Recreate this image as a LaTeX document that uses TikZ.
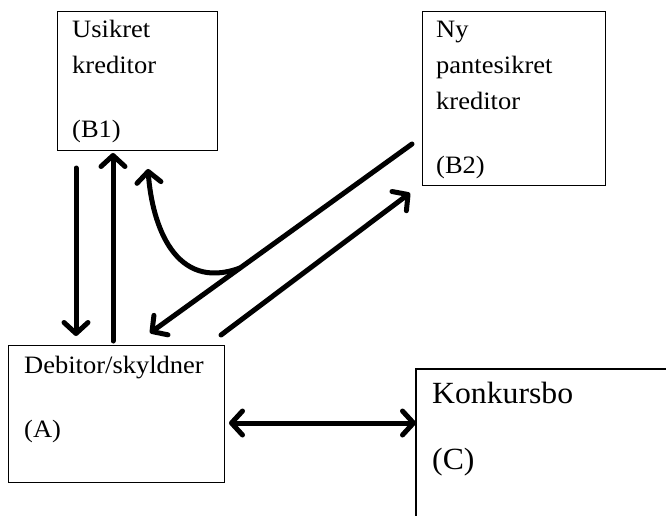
\documentclass[tikz,border=0pt]{standalone}
\usepackage{fontspec}
\usepackage{graphicx}
\setmainfont{Liberation Serif}
\usetikzlibrary{arrows.meta}
\newcommand{\wideA}[1]{\scalebox{1.06}[1]{#1}}
\newcommand{\wideC}[1]{\scalebox{1.03}[1]{#1}}
\tikzset{
  box/.style={draw=black, line width=1.3pt, inner sep=0pt, anchor=north west},
  lbl/.style={anchor=base west, inner sep=0pt, font=\fontsize{25}{29}\selectfont},
  biglbl/.style={anchor=base west, inner sep=0pt, font=\fontsize{30.8}{35}\selectfont},
  arr/.style={line width=5pt, line cap=round, -{Straight Barb[length=11pt, width=24pt, round]}},
}
\begin{document}
\begin{tikzpicture}[x=1pt, y=-1pt]
\useasboundingbox (0,0) rectangle (666,516);
% boxes
\node[box, minimum width=160pt, minimum height=139pt] (b1) at (57,11) {};
\node[box, minimum width=183pt, minimum height=174pt] (b2) at (422,11) {};
\node[box, minimum width=216pt, minimum height=137pt] (a) at (8,345) {};
\coordinate (cTR) at (666,369);
\coordinate (cTL) at (416,369);
\coordinate (cBL) at (416,516);
\draw[line width=1.3pt] (cTR) -- (cTL) -- (cBL);
% texts
\node[lbl] (b1t1) at (72,38) {\wideA{Usikret}};
\node[lbl] (b1t2) at (72,74) {\wideA{kreditor}};
\node[lbl] (b1t3) at (72,137) {\wideA{(B1)}};
\node[lbl] (b2t1) at (436,38) {\wideA{Ny}};
\node[lbl] (b2t2) at (436,74) {\wideA{pantesikret}};
\node[lbl] (b2t3) at (436,110) {\wideA{kreditor}};
\node[lbl] (b2t4) at (436,173) {\wideA{(B2)}};
\node[lbl] (at1) at (24,373) {\wideA{Debitor/skyldner}};
\node[lbl] (at2) at (24,437) {\wideA{(A)}};
\node[biglbl] (ct1) at (432,403) {\wideC{Konkursbo}};
\node[biglbl] (ct2) at (432,469) {\wideC{(C)}};
% connector end points
\coordinate (d1s) at (76,168);
\coordinate (d1e) at (76,336);
\coordinate (u1s) at (113,341);
\coordinate (u1e) at (113,153);
\coordinate (gs) at (412,144);
\coordinate (ge) at (150,333);
\coordinate (j) at (240,268);
\coordinate (ce) at (148,169);
\coordinate (ps) at (221,335);
\coordinate (pe) at (410,193);
\coordinate (hl) at (229,423);
\coordinate (hr) at (416,423);
% arrows
\draw[arr] (d1s) -- (d1e);
\draw[arr] (u1s) -- (u1e);
\draw[arr] (gs) -- (ge);
\draw[arr] (j) .. controls (175,292) and (152,225) .. (ce);
\draw[arr] (ps) -- (pe);
\draw[arr, {Straight Barb[length=11pt, width=24pt, round]}-{Straight Barb[length=11pt, width=24pt, round]}] (hl) -- (hr);
\end{tikzpicture}
\end{document}
